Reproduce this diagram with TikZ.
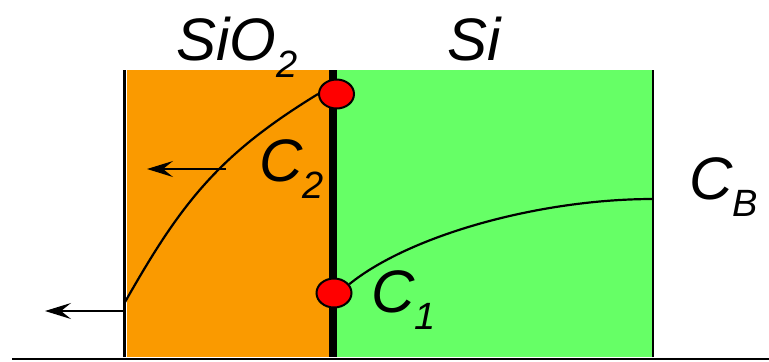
\documentclass[tikz,border=0pt]{standalone}
\usepackage{fontspec}
\setmainfont{Liberation Sans}
\usepackage{tikz}
\usetikzlibrary{positioning,arrows.meta,shapes.geometric}
\definecolor{oxide}{HTML}{FA9A00}
\definecolor{silicon}{HTML}{66FF66}
\definecolor{dotred}{HTML}{FF0000}
\newcommand{\lowidx}[1]{\raisebox{-8.5pt}{\fontsize{19}{19}\selectfont #1}}

\begin{document}
\begin{tikzpicture}[
  x=0.5pt,y=0.5pt,
  font=\fontsize{30}{36}\selectfont\itshape,
  wall/.style={line width=1.3pt},
  iface/.style={line width=4pt},
  conc/.style={line width=1.1pt},
  flux/.style={-{Stealth[length=13pt,width=8pt,inset=5pt]},line width=1pt},
  sdot/.style={ellipse,draw,line width=1pt,fill=dotred,minimum width=17.5pt,minimum height=14.5pt,inner sep=0pt},
  lbl/.style={anchor=base west,inner sep=0pt}
]
\useasboundingbox (0,0) rectangle (769,361);
% layers
\fill[oxide] (127,4) rectangle (333,291);
\fill[silicon] (333,4) rectangle (653,291);
\draw[wall] (124.5,4) -- (124.5,291);
\draw[wall] (653,4) -- (653,291);
\draw[iface] (333,4) -- (333,291);
\draw[wall] (12,2) -- (769,2);

% surface concentrations
\node[sdot] (top) at (336.5,267) {};
\node[sdot] (bot) at (334,68) {};
\coordinate (bulk) at (653,162);
\coordinate (edge) at (124.5,58);

\draw[conc] (edge) .. controls (182,160) and (220,207) .. (top.west);
\draw[conc] (bot.30) .. controls (410,126) and (540,162) .. (bulk);

% fluxes
\coordinate (oxtail) at (226,192);
\coordinate (oxhead) at (147,192);
\coordinate (outtail) at (124.5,50);
\coordinate (outhead) at (45,50);
\draw[flux] (oxtail) -- (oxhead);
\draw[flux] (outtail) -- (outhead);

% labels
\node[lbl] (oxlbl) at (176,301) {SiO\lowidx{2}};
\node[lbl] (silbl) at (447,301) {Si};
\node[lbl] (ctwo) at (259,180) {C\lowidx{2}};
\node[lbl] (cone) at (371,49) {C\lowidx{1}};
\node[lbl] (cbulk) at (689,162) {C\lowidx{B}};
\end{tikzpicture}
\end{document}
